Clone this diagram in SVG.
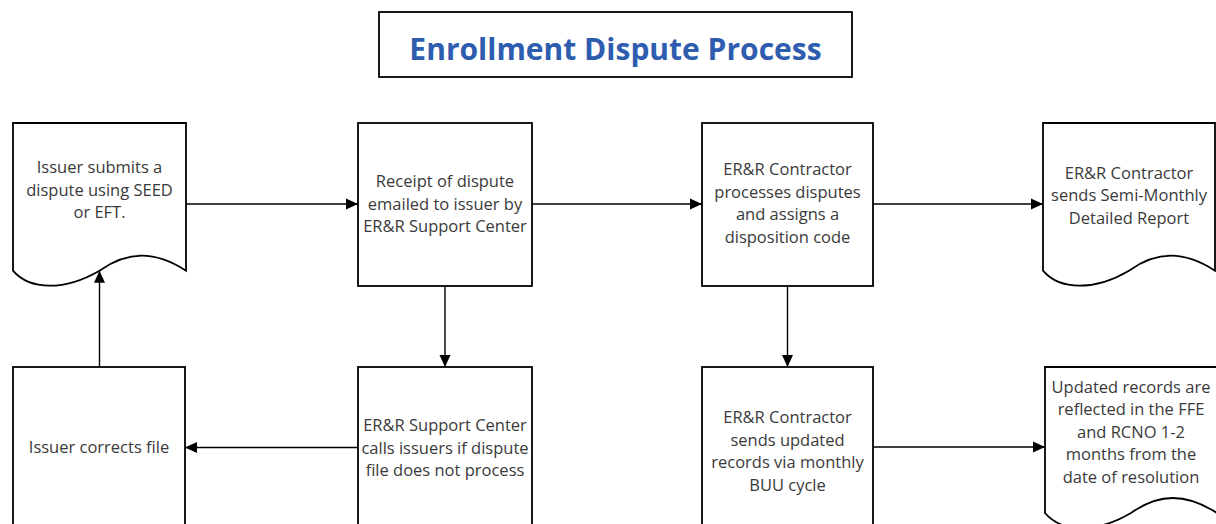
<svg xmlns="http://www.w3.org/2000/svg" width="1216" height="524" viewBox="0 0 1216 524">
<defs>
<marker id="arr" markerUnits="userSpaceOnUse" markerWidth="12" markerHeight="12" refX="12" refY="6" orient="auto">
<path d="M0,0.5 L12,6 L0,11.5 Z" fill="#000"/>
</marker>
<style>
.shape{fill:#fff;stroke:#000;stroke-width:1.8}
.conn{fill:none;stroke:#000;stroke-width:1.4;marker-end:url(#arr)}
.t{font-family:"Open Sans","Liberation Sans",sans-serif;font-size:16.5px;fill:#3a3a3a;text-anchor:middle}
.title{font-family:"Open Sans","Liberation Sans",sans-serif;font-size:30px;font-weight:bold;fill:#2E5DAF;text-anchor:middle}
</style>
</defs>
<rect width="1216" height="524" fill="#fff"/>
<g id="title">
<rect x="379" y="12" width="473" height="65" fill="#fff" stroke="#000" stroke-width="1.8"/>
<text class="title" x="615.5" y="60">Enrollment Dispute Process</text>
</g>
<g id="node1">
<path class="shape" d="M13,123 H186 V270.7 C155,250.7 128,250.7 99.5,270.7 C65,290.7 30,290.7 13,270.7 Z"/>
<text class="t" x="99.5" y="173.3">Issuer submits a</text>
<text class="t" x="99.5" y="195.8">dispute using SEED</text>
<text class="t" x="99.5" y="218.3">or EFT.</text>
</g>
<g id="node2">
<rect class="shape" x="358" y="123" width="174" height="163"/>
<text class="t" x="445" y="187">Receipt of dispute</text>
<text class="t" x="445" y="209.5">emailed to issuer by</text>
<text class="t" x="445" y="232">ER&amp;R Support Center</text>
</g>
<g id="node3">
<rect class="shape" x="702" y="123" width="171" height="163"/>
<text class="t" x="787.5" y="175">ER&amp;R Contractor</text>
<text class="t" x="787.5" y="197.5">processes disputes</text>
<text class="t" x="787.5" y="220">and assigns a</text>
<text class="t" x="787.5" y="242.5">disposition code</text>
</g>
<g id="node4">
<path class="shape" d="M1043,123 H1215 V270.7 C1184,250.7 1157,250.7 1129,270.7 C1095,290.7 1060,290.7 1043,270.7 Z"/>
<text class="t" x="1129" y="178.5">ER&amp;R Contractor</text>
<text class="t" x="1129" y="201">sends Semi-Monthly</text>
<text class="t" x="1129" y="223.5">Detailed Report</text>
</g>
<g id="node5">
<rect class="shape" x="13" y="367" width="172" height="170"/>
<text class="t" x="99" y="453">Issuer corrects file</text>
</g>
<g id="node6">
<rect class="shape" x="358" y="367" width="174" height="170"/>
<text class="t" x="445" y="431">ER&amp;R Support Center</text>
<text class="t" x="445" y="453.5">calls issuers if dispute</text>
<text class="t" x="445" y="476">file does not process</text>
</g>
<g id="node7">
<rect class="shape" x="702" y="367" width="171" height="170"/>
<text class="t" x="787.5" y="423">ER&amp;R Contractor</text>
<text class="t" x="787.5" y="445.5">sends updated</text>
<text class="t" x="787.5" y="468">records via monthly</text>
<text class="t" x="787.5" y="490.5">BUU cycle</text>
</g>
<g id="node8">
<path class="shape" d="M1045,367 H1217 V513 C1186,493 1159,493 1131,513 C1097,533 1062,533 1045,513 Z"/>
<text class="t" x="1131" y="392.5">Updated records are</text>
<text class="t" x="1131" y="415">reflected in the FFE</text>
<text class="t" x="1131" y="437.5">and RCNO 1-2</text>
<text class="t" x="1131" y="460">months from the</text>
<text class="t" x="1131" y="482.5">date of resolution</text>
</g>
<g id="connectors">
<path class="conn" d="M186,204 H358"/>
<path class="conn" d="M532,204 H702"/>
<path class="conn" d="M873,204 H1043"/>
<path class="conn" d="M445,286 V367"/>
<path class="conn" d="M787.5,286 V367"/>
<path class="conn" d="M358,447.5 H185"/>
<path class="conn" d="M99.5,367 V270.7"/>
<path class="conn" d="M873,447 H1045"/>
</g>
</svg>
